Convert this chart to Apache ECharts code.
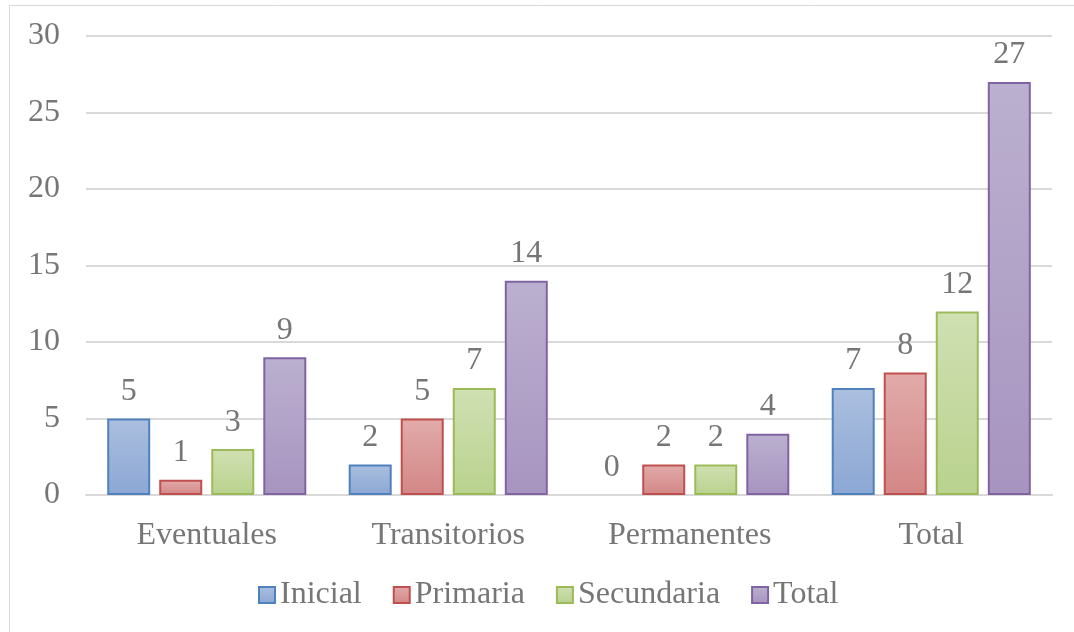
<!DOCTYPE html>
<html><head><meta charset="utf-8">
<script src="https://cdn.jsdelivr.net/npm/echarts@6/dist/echarts.min.js"></script>
<style>html,body{margin:0;padding:0;background:#fff}#c{width:1074px;height:632px}</style>
</head><body><div id="c"></div>
<script>
const categories = ['Eventuales', 'Transitorios', 'Permanentes', 'Total'];
const seriesNames = ['Inicial', 'Primaria', 'Secundaria', 'Total'];
const inicial = [5, 2, 0, 7];
const primaria = [1, 5, 2, 8];
const secundaria = [3, 7, 2, 12];
const total = [9, 14, 4, 27];
const yTicks = [0, 5, 10, 15, 20, 25, 30];

const FONT = '"Liberation Serif", "Times New Roman", serif';
const styles = [
  {top: '#abbfdf', bottom: '#8ba7d4', border: '#4f81bd'},
  {top: '#e1abaa', bottom: '#d38786', border: '#c0504d'},
  {top: '#d0e0b2', bottom: '#b9d28e', border: '#9bbb59'},
  {top: '#bbb0cf', bottom: '#a794c0', border: '#8064a2'}
];
const data = [inicial, primaria, secundaria, total];
const grad = i => new echarts.graphic.LinearGradient(0,0,0,1,[{offset:0,color:styles[i].top},{offset:1,color:styles[i].bottom}]);

const chart = echarts.init(document.getElementById('c'), null, {renderer: 'canvas'});
chart.setOption({
  animation: false,
  graphic: [{type: 'rect', shape: {x: 9.5, y: 5.5, width: 1100, height: 700}, style: {fill: 'none', stroke: '#d9d9d9', lineWidth: 1}, silent: true}],
  grid: {left: 86, right: 22, top: 36, bottom: 137, containLabel: false},
  legend: {
    top: 574, left: 253, itemWidth: 16, itemHeight: 16, itemGap: 31, icon: 'rect',
    textStyle: {fontFamily: FONT, fontSize: 32, color: '#767676', padding: [0, 0, 0, 0]},
    data: seriesNames.map((n, i) => ({name: n, itemStyle: {color: grad(i), borderColor: styles[i].border, borderWidth: 2}}))
  },
  xAxis: {
    type: 'category', data: categories,
    axisLine: {lineStyle: {color: '#d9d9d9', width: 2}},
    axisTick: {show: false},
    axisLabel: {fontFamily: FONT, fontSize: 32, color: '#767676', margin: 25}
  },
  yAxis: {
    type: 'value', min: 0, max: 30, interval: 5,
    axisLine: {show: false}, axisTick: {show: false},
    splitLine: {lineStyle: {color: '#d9d9d9', width: 2}},
    axisLabel: {fontFamily: FONT, fontSize: 32, color: '#767676', margin: 26,
      formatter: v => yTicks.includes(v) ? String(v) : ''}
  },
  series: seriesNames.map((n, i) => ({
    name: n, type: 'bar',
    data: data[i].map(v => v === 0 ? {value: v, itemStyle: {borderWidth: 0}} : v),
    barWidth: 43, barGap: '21%',
    itemStyle: {color: grad(i), borderColor: styles[i].border, borderWidth: 2},
    label: {show: true, position: 'top', distance: 11, fontFamily: FONT, fontSize: 32, color: '#767676'}
  }))
});
</script></body></html>
